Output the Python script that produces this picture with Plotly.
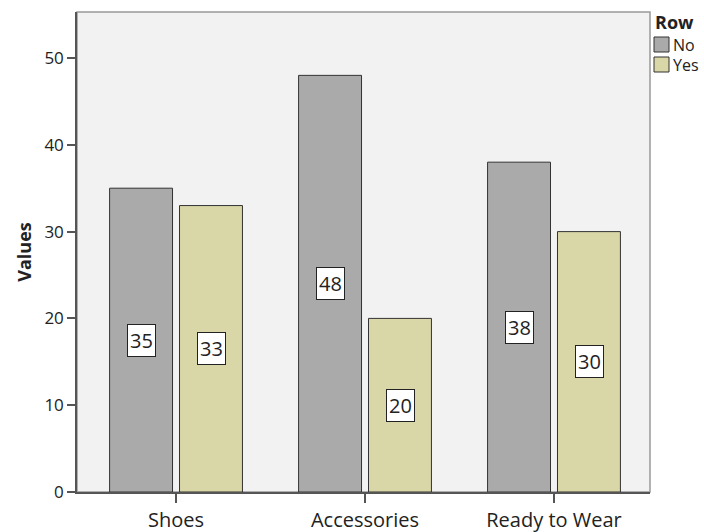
import plotly.graph_objects as go

categories = ["Shoes", "Accessories", "Ready to Wear"]
no_values = [35, 48, 38]
yes_values = [33, 20, 30]
series_names = ["No", "Yes"]
legend_title = "Row"
y_title = "Values"
y_ticks = [0, 10, 20, 30, 40, 50]

col_no = "#aaaaaa"
col_yes = "#d9d6a8"
font_family = "Open Sans"
txt_col = "#222222"

W, H = 704, 532
L, R, T, B = 77, 54, 12, 40
pw, ph = W - L - R, H - T - B

def px_x(p):
    return (p - L) / pw

def px_y(p):
    return (H - B - p) / ph

fig = go.Figure()
for name, vals, col in [(series_names[0], no_values, col_no), (series_names[1], yes_values, col_yes)]:
    fig.add_trace(go.Bar(
        x=categories, y=vals, name=name,
        marker=dict(color=col, line=dict(color="#333333", width=1)),
        showlegend=False, hoverinfo="skip",
    ))

annotations = []
for vals, shift in [(no_values, -35), (yes_values, 35)]:
    for c, v in zip(categories, vals):
        annotations.append(dict(
            x=c, y=v / 2, xref="x", yref="y", text=str(v), showarrow=False,
            xshift=shift, font=dict(family=font_family, size=20, color=txt_col),
            bgcolor="white", bordercolor="#222222", borderwidth=1, borderpad=2,
        ))

# legend (manual, compact like the reference)
annotations.append(dict(x=px_x(653), y=px_y(22), xref="paper", yref="paper",
                        text="<b>" + legend_title + "</b>", showarrow=False,
                        xanchor="left", yanchor="middle",
                        font=dict(family=font_family, size=18, color=txt_col)))
annotations.append(dict(x=px_x(671), y=px_y(45), xref="paper", yref="paper",
                        text=series_names[0], showarrow=False, xanchor="left", yanchor="middle",
                        font=dict(family=font_family, size=16, color=txt_col)))
annotations.append(dict(x=px_x(671), y=px_y(65), xref="paper", yref="paper",
                        text=series_names[1], showarrow=False, xanchor="left", yanchor="middle",
                        font=dict(family=font_family, size=16, color=txt_col)))

shapes = [
    dict(type="rect", xref="paper", yref="paper", x0=0, x1=1, y0=0, y1=1,
         line=dict(color="#999999", width=1.5), layer="below"),
    dict(type="rect", xref="paper", yref="paper", x0=px_x(654), x1=px_x(669),
         y0=px_y(52), y1=px_y(37), fillcolor=col_no, line=dict(color="#333333", width=1)),
    dict(type="rect", xref="paper", yref="paper", x0=px_x(654), x1=px_x(669),
         y0=px_y(72), y1=px_y(57), fillcolor=col_yes, line=dict(color="#333333", width=1)),
]

fig.update_layout(
    width=W, height=H,
    margin=dict(l=L, r=R, t=T, b=B, pad=0),
    paper_bgcolor="white", plot_bgcolor="#f2f2f2",
    barmode="group", bargap=0.26, bargroupgap=0.1,
    annotations=annotations, shapes=shapes,
    font=dict(family=font_family, color=txt_col),
)
fig.update_xaxes(
    type="category", range=[-0.524, 2.508], automargin=False,
    showline=True, linecolor="#555555", linewidth=1.5,
    ticks="outside", ticklen=9, tickwidth=1.5, tickcolor="#555555",
    tickfont=dict(size=20, family=font_family, color=txt_col),
    showgrid=False, zeroline=False,
)
fig.update_yaxes(
    range=[0, 55.3], tickvals=y_ticks, automargin=False,
    showline=True, linecolor="#555555", linewidth=1.5,
    ticks="outside", ticklen=8, tickwidth=1.5, tickcolor="#555555",
    tickfont=dict(size=17, family=font_family, color=txt_col),
    showgrid=False, zeroline=False,
    title=dict(text="<b>" + y_title + "</b>", standoff=8,
               font=dict(size=18, family=font_family, color=txt_col)),
)

fig.write_html("out.html")
